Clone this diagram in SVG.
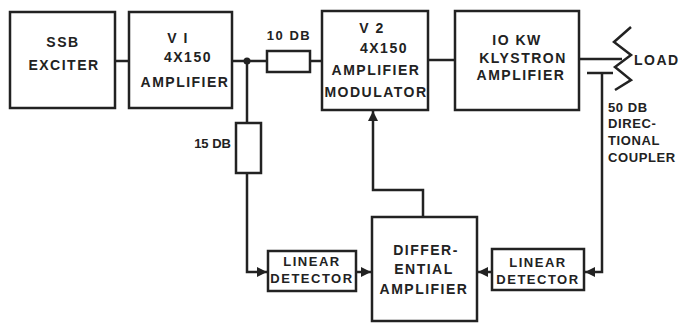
<svg xmlns="http://www.w3.org/2000/svg" width="685" height="323" viewBox="0 0 685 323">
<defs>
<style>
.box{fill:#fff;stroke:#222;stroke-width:2.5}
.ln{fill:none;stroke:#222;stroke-width:2.5}
.t{font-family:"Liberation Sans",Arial,sans-serif;font-weight:bold;font-size:14px;fill:#222;letter-spacing:1.5px;text-anchor:middle}
.ts{font-family:"Liberation Sans",Arial,sans-serif;font-weight:bold;font-size:13px;fill:#222;letter-spacing:1.5px;text-anchor:middle}
.tl{font-family:"Liberation Sans",Arial,sans-serif;font-weight:bold;font-size:14px;fill:#222;letter-spacing:1.5px}
.tc{font-family:"Liberation Sans",Arial,sans-serif;font-weight:bold;font-size:13px;fill:#222;letter-spacing:0.6px}
</style>
<marker id="ah" viewBox="0 0 10 10" refX="10" refY="5" markerWidth="4" markerHeight="4" orient="auto" markerUnits="strokeWidth">
<path d="M0,0 L10,5 L0,10 z" fill="#222"/>
</marker>
</defs>
<g id="connectors">
<line class="ln" x1="115" y1="61" x2="129" y2="61"/>
<line class="ln" x1="232" y1="61" x2="267" y2="61"/>
<circle cx="247" cy="61" r="3.5" fill="#222"/>
<line class="ln" x1="310" y1="61" x2="322" y2="61"/>
<line class="ln" x1="428" y1="60" x2="455" y2="60"/>
<line class="ln" x1="579" y1="59" x2="622" y2="59"/>
<line class="ln" x1="247" y1="61" x2="247" y2="123"/>
<polyline class="ln" points="247,173 247,272 267,272" marker-end="url(#ah)"/>
<line class="ln" x1="356" y1="272" x2="371" y2="272" marker-end="url(#ah)"/>
<polyline class="ln" points="423,217 423,190 373,190 373,111" marker-end="url(#ah)"/>
<line class="ln" x1="587" y1="73" x2="613" y2="73"/>
<polyline class="ln" points="602,73 602,272 585,272" marker-end="url(#ah)"/>
<line class="ln" x1="492" y1="272" x2="478" y2="272" marker-end="url(#ah)"/>
</g>
<g id="ssb">
<rect class="box" x="10" y="12" width="105" height="96"/>
<text class="t" x="63" y="47">SSB</text>
<text class="t" x="64" y="70">EXCITER</text>
</g>
<g id="v1">
<rect class="box" x="129" y="12" width="103" height="96"/>
<text class="t" x="178" y="43">V I</text>
<text class="t" x="188" y="62">4X150</text>
<text class="t" x="185" y="87">AMPLIFIER</text>
</g>
<g id="att10">
<rect class="box" x="267" y="51" width="43" height="21"/>
<text class="ts" x="289" y="40">10 DB</text>
</g>
<g id="v2">
<rect class="box" x="322" y="11" width="106" height="99"/>
<text class="t" x="372" y="33">V 2</text>
<text class="t" x="384" y="53">4X150</text>
<text class="t" x="376" y="75">AMPLIFIER</text>
<text class="t" x="376" y="97">MODULATOR</text>
</g>
<g id="klystron">
<rect class="box" x="455" y="11" width="124" height="99"/>
<text class="t" x="517" y="45">IO KW</text>
<text class="t" x="523" y="63">KLYSTRON</text>
<text class="t" x="521" y="80">AMPLIFIER</text>
</g>
<g id="load">
<polyline class="ln" points="631,27 614,42 631,55 615,67 631,80 615,90"/>
<text class="tl" x="634" y="65">LOAD</text>
</g>
<g id="coupler">
<text class="tc" x="608" y="112">50 DB</text>
<text class="tc" x="608" y="128">DIREC-</text>
<text class="tc" x="608" y="145">TIONAL</text>
<text class="tc" x="608" y="162">COUPLER</text>
</g>
<g id="att15">
<rect class="box" x="236" y="123" width="25" height="50"/>
<text class="ts" x="231" y="148" style="text-anchor:end;letter-spacing:0">15 DB</text>
</g>
<g id="det1">
<rect class="box" x="268" y="251" width="88" height="40"/>
<text class="ts" x="312" y="266">LINEAR</text>
<text class="ts" x="312" y="283">DETECTOR</text>
</g>
<g id="diffamp">
<rect class="box" x="372" y="217" width="105" height="104"/>
<text class="t" x="426" y="255">DIFFER-</text>
<text class="t" x="424" y="274">ENTIAL</text>
<text class="t" x="424" y="294">AMPLIFIER</text>
</g>
<g id="det2">
<rect class="box" x="492" y="249" width="92" height="41"/>
<text class="ts" x="538" y="267">LINEAR</text>
<text class="ts" x="538" y="284">DETECTOR</text>
</g>
</svg>
